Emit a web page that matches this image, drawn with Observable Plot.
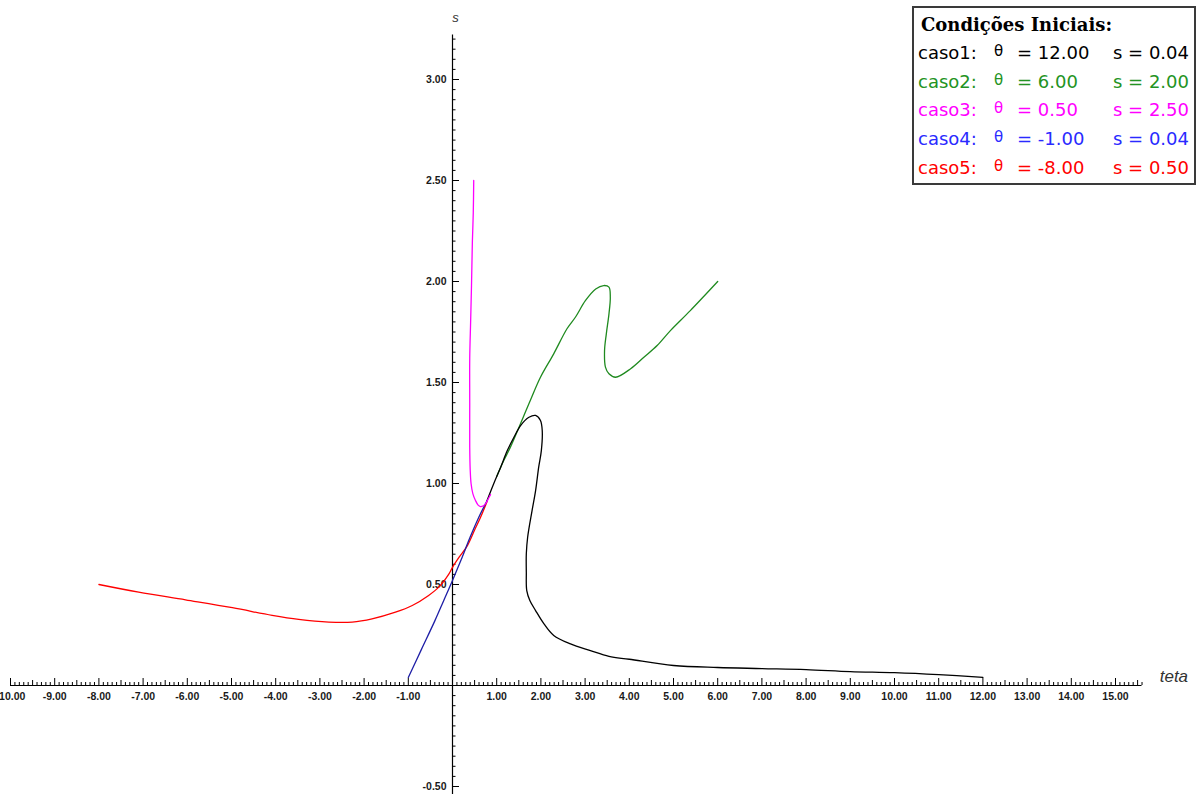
<!DOCTYPE html>
<html><head><meta charset="utf-8">
<script src="https://cdn.jsdelivr.net/npm/d3@7"></script>
<script src="https://cdn.jsdelivr.net/npm/@observablehq/plot@0.6"></script>
<style>
body{margin:0;background:#fff;}
#wrap{position:relative;width:1198px;height:794px;overflow:hidden;}
#legend{position:absolute;left:912px;top:6px;width:280px;height:175px;border:2px solid #3a3a3a;background:#fff;font-family:"DejaVu Sans",sans-serif;}
#legend span{position:absolute;white-space:nowrap;}
</style></head><body>
<div id="wrap"><div id="chart"></div><div id="legend"></div></div>
<script>
// ---- data ----
const caseNames = ["caso1","caso2","caso3","caso4","caso5"];
const caseTheta0 = [12.00, 6.00, 0.50, -1.00, -8.00];
const caseS0 = [0.04, 2.00, 2.50, 0.04, 0.50];
const legendColors = ["#000000","#239323","#ff00ff","#2a2aff","#ff0000"];
const curveColors = ["#000000","#1f8a1f","#ff00ff","#1e1ea6","#ff0000"];

const caso1Theta = [12,11,10,9,8,7,6,5,4,3.54,3.12,2.67,2.29,2.07,1.88,1.75,1.68,1.67,1.67,1.70,1.80,1.88,1.95,2.01,2.03,1.99,1.88,1.73,1.54,1.39,1.24,1.09,0.93,0.78];
const caso1S     = [0.04,0.054,0.064,0.069,0.079,0.084,0.089,0.099,0.13,0.144,0.173,0.206,0.248,0.305,0.371,0.421,0.47,0.56,0.652,0.734,0.866,0.965,1.081,1.163,1.262,1.312,1.337,1.328,1.287,1.229,1.163,1.081,0.998,0.915];

const caso2Theta = [6.0,5.38,4.93,4.63,4.33,4.03,3.69,3.54,3.46,3.44,3.48,3.54,3.57,3.54,3.42,3.24,3.01,2.78,2.59,2.29,1.99,1.76,1.31,1.16,1.0];
const caso2S     = [2.0,1.856,1.757,1.683,1.625,1.568,1.526,1.543,1.576,1.658,1.741,1.84,1.922,1.972,1.98,1.963,1.906,1.823,1.766,1.642,1.526,1.411,1.18,1.114,1.035];

const caso3Theta = [0.48,0.47,0.45,0.43,0.41,0.39,0.39,0.39,0.40,0.42,0.46,0.52,0.58,0.63,0.70,0.75,0.80,0.86];
const caso3S     = [2.50,2.34,2.20,1.98,1.80,1.62,1.40,1.18,1.07,1.00,0.95,0.916,0.893,0.886,0.89,0.90,0.92,0.945];

const caso4Theta = [-1.0,-0.7,-0.4,-0.2,0,0.2,0.4,0.6,0.78];
const caso4S     = [0.04,0.18,0.32,0.42,0.52,0.625,0.735,0.835,0.915];

const caso5Theta = [-8,-7.1,-6.04,-4.98,-4.08,-3.48,-2.8,-2.27,-1.82,-1.29,-0.91,-0.54,-0.31,-0.08,0,0.15,0.33,0.5,0.63,0.78];
const caso5S     = [0.5,0.462,0.424,0.385,0.347,0.327,0.314,0.314,0.33,0.363,0.396,0.446,0.487,0.553,0.585,0.635,0.69,0.77,0.83,0.91];

const xTickLabels = [-10,-9,-8,-7,-6,-5,-4,-3,-2,-1,1,2,3,4,5,6,7,8,9,10,11,12,13,14,15];
const yTickLabels = [-0.5,0.5,1.0,1.5,2.0,2.5,3.0];
const xLabel = "teta";
const yLabel = "s";
const legendTitle = "Condições Iniciais:";

// ---- layout ----
const W = 1198, H = 794;
const xZeroPx = 452, xUnit = 44.2, yZeroPx = 685, yUnit = 202;
const xDomain = [-xZeroPx / xUnit, (W - xZeroPx) / xUnit];
const yDomain = [(yZeroPx - H) / yUnit, yZeroPx / yUnit];

const thetas = [caso1Theta, caso2Theta, caso3Theta, caso4Theta, caso5Theta];
const ss = [caso1S, caso2S, caso3S, caso4S, caso5S];
const curves = caseNames.map((n, i) => ({name: n, color: curveColors[i],
  pts: thetas[i].map((t, j) => ({theta: t, s: ss[i][j]}))}));

const xMinor = d3.range(-100, 157).map(i => i / 10);
const yMinor = d3.range(-10, 65).map(i => Math.round(i * 5) / 100);
const xTickLen = v => (Math.abs(v - Math.round(v)) < 1e-6 ? 7 : Math.abs(v * 2 - Math.round(v * 2)) < 1e-6 ? 5 : 3);
const yTickLen = v => (Math.abs(v * 2 - Math.round(v * 2)) < 1e-6 ? 7 : 3.5);

const drawOrder = [1, 0, 4, 3, 2];
const lineMarks = drawOrder.map(i => Plot.line(curves[i].pts, {x: "theta", y: "s", stroke: curves[i].color, strokeWidth: 1.3, curve: "catmull-rom"}));

const tickFont = "Liberation Sans, Arial, sans-serif";
const chart = Plot.plot({
  width: W, height: H, margin: 0,
  x: {domain: xDomain, axis: null},
  y: {domain: yDomain, axis: null},
  style: {background: "#fff", fontFamily: tickFont},
  marks: [
    Plot.ruleY([0], {x1: -10, x2: 15.6, stroke: "#000", strokeWidth: 1}),
    Plot.ruleX([0], {y1: yDomain[0], y2: 3.22, stroke: "#000", strokeWidth: 1.2}),
    Plot.ruleX(xMinor, {x: d => d, y1: 0, y2: d => xTickLen(d) / yUnit, stroke: "#000", strokeWidth: 1}),
    Plot.ruleY(yMinor, {y: d => d, x1: 0, x2: d => yTickLen(d) / xUnit, stroke: "#000", strokeWidth: 1}),
    Plot.text(xTickLabels, {x: d => d, y: 0, dy: 11, text: d => d.toFixed(2), fontSize: 10.5, fontWeight: "bold", fill: "#1a1a1a", lineAnchor: "middle"}),
    Plot.text(yTickLabels, {x: 0, y: d => d, dx: -6, text: d => d.toFixed(2), fontSize: 10.5, fontWeight: "bold", fill: "#1a1a1a", textAnchor: "end"}),
    Plot.text([xLabel], {x: 16.0, y: 0.045, text: d => d, fontSize: 17, fontStyle: "italic", fill: "#333", textAnchor: "start"}),
    Plot.text([yLabel], {x: 0.07, y: 3.305, text: d => d, fontSize: 13, fontStyle: "italic", fill: "#333"}),
    ...lineMarks
  ]
});
document.getElementById("chart").appendChild(chart);

// ---- legend ----
const lg = document.getElementById("legend");
const t = document.createElement("span");
t.textContent = legendTitle;
t.style.cssText = "left:7px;top:6px;font-family:'DejaVu Serif',serif;font-weight:bold;font-size:18px;line-height:22px;color:#000;";
lg.appendChild(t);
caseNames.forEach((n, i) => {
  const top = 33 + i * 28.7;
  const c = legendColors[i];
  const parts = [
    [n + ":", 4, 18, 0],
    ["θ", 80, 15, -2],
    ["= " + caseTheta0[i].toFixed(2), 103, 18, 0],
    ["s = " + caseS0[i].toFixed(2), 199, 18, 0]
  ];
  parts.forEach(([txt, left, fs, dy]) => {
    const s = document.createElement("span");
    s.textContent = txt;
    s.style.cssText = `left:${left}px;top:${top + dy}px;font-size:${fs}px;line-height:24px;color:${c};`;
    lg.appendChild(s);
  });
});
</script>
</body></html>
